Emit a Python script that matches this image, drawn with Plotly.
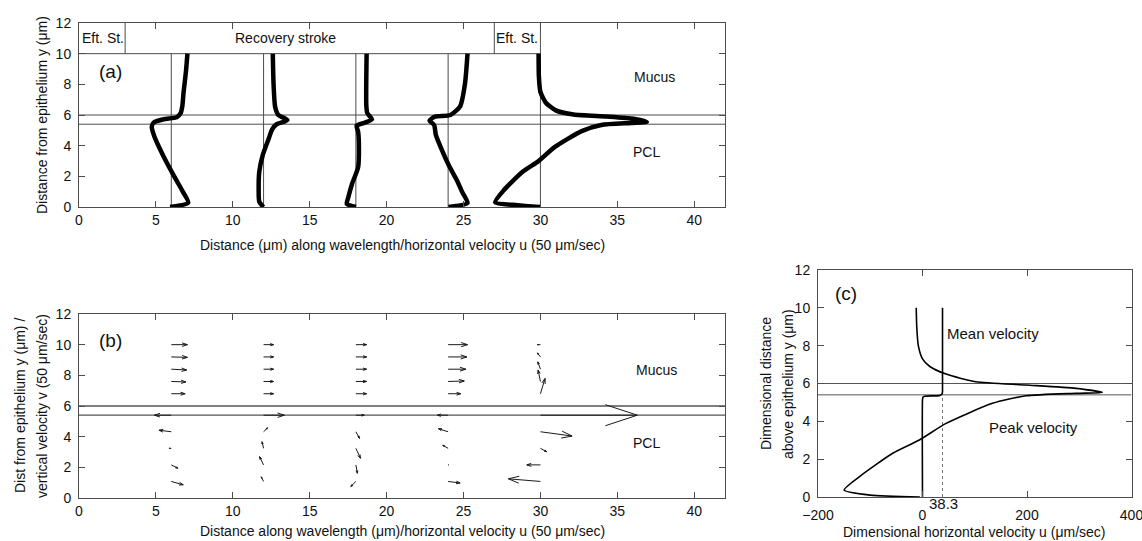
import plotly.graph_objects as go

W, H = 1142, 541
FONT = "Liberation Sans, Arial, Helvetica, sans-serif"
FRAME = "#4d4d4d"
INK = "#111111"

# ------------------------------------------------------------------ data
# panel (a): cilium tip / velocity profiles  (x in μm along wavelength, y in μm)
cilia_base = [6, 12, 18, 24, 30]
layer_bounds = [5.4, 6.0]          # PCL / mucus interface lines
stroke_edges = [3, 27]             # effective / recovery stroke boundaries
stroke_end = 30
box_bottom, box_top = 10, 12

c1_x = [5.92, 7.1, 6.75, 6.3, 5.5, 4.9, 4.73, 4.85, 5.5, 6.35, 6.6, 6.72, 6.8, 6.95, 7.05]
c1_y = [0, 0.28, 1.0, 1.8, 3.3, 4.6, 5.24, 5.5, 5.72, 5.85, 6.1, 6.6, 7.5, 8.8, 10]

c2_x = [11.99, 11.72, 11.68, 11.72, 11.95, 12.35, 12.55, 12.85, 13.55, 12.96, 12.75, 12.65, 12.6]
c2_y = [0, 0.35, 1.2, 2.3, 3.4, 4.5, 5.05, 5.4, 5.67, 6.0, 6.54, 8.0, 10]

c3_x = [18.0, 17.41, 17.5, 17.75, 18.15, 18.2, 18.15, 18.05, 18.6, 19.05, 18.75, 18.68, 18.7]
c3_y = [0, 0.2, 0.6, 1.5, 2.6, 3.9, 4.9, 5.3, 5.5, 5.72, 6.1, 6.6, 10]

c4_x = [24.02, 25.26, 24.9, 24.56, 24.05, 23.59, 23.2, 23.09, 22.79, 23.15, 24.15, 24.78, 25.1, 25.26]
c4_y = [0, 0.26, 1.0, 1.76, 2.7, 3.72, 4.7, 5.35, 5.63, 5.9, 6.0, 6.57, 8.08, 10]

c5_x = [29.98, 28.5, 27.06, 27.6, 28.86, 29.9, 30.9, 32.68, 33.96, 35.88, 36.92,
        36.05, 34.32, 32.15, 31.0, 30.35, 30.0, 29.9, 29.88]
c5_y = [0, 0.12, 0.3, 1.07, 2.31, 3.01, 3.89, 4.95, 5.35, 5.48, 5.55,
        5.76, 5.9, 6.03, 6.3, 6.8, 7.5, 8.5, 10]

profiles_x = [c1_x, c2_x, c3_x, c4_x, c5_x]
profiles_y = [c1_y, c2_y, c3_y, c4_y, c5_y]

# panel (b): velocity vectors (units of 50 μm/sec) at each cilium station
quiver_y = [1.08, 2.16, 3.24, 4.32, 5.4, 6.8, 7.6, 8.4, 9.2, 10.0]
q1_u = [0.78, 0.43, -0.15, -0.8, -1.1, 0.9, 0.95, 1.0, 1.05, 1.05]
q1_v = [-0.22, -0.22, 0.0, 0.1, 0.0, 0.0, -0.03, -0.05, -0.03, 0.0]
q2_u = [-0.15, -0.26, -0.1, 0.26, 1.35, 0.65, 0.65, 0.65, 0.65, 0.65]
q2_v = [0.3, 0.54, 0.43, 0.26, 0.0, 0.0, 0.0, 0.0, 0.0, 0.0]
q3_u = [-0.33, 0.1, 0.3, 0.24, 0.55, 0.7, 0.7, 0.7, 0.7, 0.7]
q3_v = [-0.33, -0.55, -0.65, -0.43, 0.0, 0.0, 0.0, 0.0, 0.0, 0.0]
q4_u = [0.78, 0.05, -0.35, -0.63, -0.7, 0.82, 1.05, 1.15, 1.22, 1.26]
q4_v = [-0.1, 0.0, 0.2, 0.2, 0.0, 0.0, 0.03, 0.0, 0.0, 0.0]
q5_u = [-2.08, -0.89, 0.4, 2.06, 6.3, 0.3, -0.15, -0.17, -0.2, -0.2]
q5_v = [0.17, 0.0, -0.22, -0.28, 0.0, 1.0, 0.75, 0.48, 0.26, 0.0]
quiver_u = [q1_u, q2_u, q3_u, q4_u, q5_u]
quiver_v = [q1_v, q2_v, q3_v, q4_v, q5_v]

# panel (c): dimensional velocity profiles (μm/sec)
peak_u = [-5, -100, -150, -121, -57, -6, 45, 134, 198, 294, 344,
          294, 198, 102, 45, 14, 0, -8, -11, -12]
peak_y = [0, 0.1, 0.37, 1.07, 2.31, 3.01, 3.89, 4.95, 5.35, 5.48, 5.53,
          5.74, 5.92, 6.09, 6.5, 6.9, 7.3, 8.0, 9.0, 10]
mean_u = [0, 0, 0.8, 4, 32, 36.5, 38, 38.3, 38.3]
mean_y = [0, 5.15, 5.27, 5.33, 5.36, 5.42, 5.5, 5.6, 10]
mean_mucus = 38.3

# ------------------------------------------------------------------ layout helpers
def dx(p0, p1):
    return [p0 / W, p1 / W]

def dy(top, bottom):
    return [1 - bottom / H, 1 - top / H]

fig = go.Figure()

def add_lines(segs, xa, ya, color=FRAME, width=1, dash=None):
    xs, ys = [], []
    for (x0, y0, x1, y1) in segs:
        xs += [x0, x1, None]
        ys += [y0, y1, None]
    fig.add_trace(go.Scatter(x=xs, y=ys, xaxis=xa, yaxis=ya, mode="lines",
                             line=dict(color=color, width=width, dash=dash),
                             hoverinfo="skip", showlegend=False))

# ---------------- panel (a)
segs = []
for b in cilia_base:
    top = box_top if b == stroke_end else box_bottom
    segs.append((b, 0, b, top))
for yb in layer_bounds:
    segs.append((0, yb, 42, yb))
segs.append((0, box_bottom, stroke_end, box_bottom))
for e in stroke_edges:
    segs.append((e, box_bottom, e, box_top))
add_lines(segs, "x", "y")

for px_, py_ in zip(profiles_x, profiles_y):
    fig.add_trace(go.Scatter(x=px_, y=py_, xaxis="x", yaxis="y", mode="lines",
                             line=dict(color="black", width=4.5, shape="spline", smoothing=0.6),
                             hoverinfo="skip", showlegend=False))

# ---------------- panel (b)
add_lines([(0, yb, 42, yb) for yb in layer_bounds], "x2", "y2", color="#555555", width=1.3)

alpha, beta = 0.33, 0.33
qsegs = []
for b, us, vs in zip(cilia_base, quiver_u, quiver_v):
    for y0, u, v in zip(quiver_y, us, vs):
        x1, y1 = b + u, y0 + v
        qsegs.append((b, y0, x1, y1))
        qsegs.append((x1 - alpha * (u + beta * v), y1 - alpha * (v - beta * u), x1, y1))
        qsegs.append((x1 - alpha * (u - beta * v), y1 - alpha * (v + beta * u), x1, y1))
add_lines(qsegs, "x2", "y2", color="#1a1a1a", width=1)

# ---------------- panel (c)
add_lines([(-200, yb, 400, yb) for yb in layer_bounds], "x3", "y3", color="#555555", width=1)
add_lines([(mean_mucus, 0, mean_mucus, 5.5)], "x3", "y3", color="#777777", width=1, dash="dot")
fig.add_trace(go.Scatter(x=peak_u, y=peak_y, xaxis="x3", yaxis="y3", mode="lines",
                         line=dict(color="black", width=1.6, shape="spline", smoothing=0.6),
                         hoverinfo="skip", showlegend=False))
fig.add_trace(go.Scatter(x=mean_u, y=mean_y, xaxis="x3", yaxis="y3", mode="lines",
                         line=dict(color="black", width=1.6, shape="spline", smoothing=0.5),
                         hoverinfo="skip", showlegend=False))

# ------------------------------------------------------------------ axes
def axis(domain, rng, tickvals, anchor):
    return dict(domain=domain, range=rng, tickvals=tickvals, anchor=anchor,
                showgrid=False, zeroline=False, showline=True, linecolor=FRAME, linewidth=1,
                mirror="ticks", ticks="inside", ticklen=6, tickwidth=1, tickcolor=FRAME,
                automargin=False, ticklabeloverflow="allow",
                tickfont=dict(family=FONT, size=14, color=INK), fixedrange=True)

xa_dom = dx(79, 725)
fig.update_layout(
    width=W, height=H, autosize=False, margin=dict(l=0, r=0, t=0, b=0, pad=0),
    paper_bgcolor="white", plot_bgcolor="white", showlegend=False,
    font=dict(family=FONT, size=14, color=INK),
    xaxis=axis(xa_dom, [0, 42], list(range(0, 41, 5)), "y"),
    yaxis=dict(axis(dy(23, 207), [0, 12], list(range(0, 13, 2)), "x"), ticklabelstandoff=4),
    xaxis2=axis(xa_dom, [0, 42], list(range(0, 41, 5)), "y2"),
    yaxis2=dict(axis(dy(314, 498), [0, 12], list(range(0, 13, 2)), "x2"), ticklabelstandoff=4),
    xaxis3=dict(axis(dx(818, 1131.5), [-200, 400], [-200, 0, 200, 400], "y3"), ticklabelstandoff=5),
    yaxis3=dict(axis(dy(270, 497), [0, 12], list(range(0, 13, 2)), "x3"), ticklabelstandoff=4),
)

ann = []
def txt(text, x, y, xref, yref, size=14, xanchor="center", angle=0):
    ann.append(dict(text=text, x=x, y=y, xref=xref, yref=yref, showarrow=False,
                    xanchor=xanchor, yanchor="middle", textangle=angle,
                    font=dict(family=FONT, size=size, color=INK)))

def ptxt(text, px, py, size=14, angle=0):
    txt(text, px / W, 1 - py / H, "paper", "paper", size=size, angle=angle)

# panel (a) texts
txt("(a)", 1.2, 8.85, "x", "y", size=19, xanchor="left")
txt("Eft. St.", 1.55, 11.0, "x", "y")
txt("Recovery stroke", 13.45, 11.0, "x", "y")
txt("Eft. St.", 28.5, 11.0, "x", "y")
txt("Mucus", 37.4, 8.45, "x", "y")
txt("PCL", 36.9, 3.57, "x", "y")
ptxt("Distance from epithelium y (μm)", 42, 115, angle=-90)
ptxt("Distance (μm) along wavelength/horizontal velocity u (50 μm/sec)", 402, 245)

# panel (b) texts
txt("(b)", 1.2, 10.3, "x2", "y2", size=19, xanchor="left")
txt("Mucus", 37.55, 8.35, "x2", "y2")
txt("PCL", 36.9, 3.6, "x2", "y2")
ptxt("Dist from epithelium y (μm) /", 20, 406, angle=-90)
ptxt("vertical velocity v (50 μm/sec)", 42, 406, angle=-90)
ptxt("Distance along wavelength (μm)/horizontal velocity u (50 μm/sec)", 402, 531)

# panel (c) texts
txt("(c)", -172, 10.75, "x3", "y3", size=19, xanchor="left")
txt("Mean velocity", 44, 8.65, "x3", "y3", size=15, xanchor="left")
txt("Peak velocity", 123, 3.7, "x3", "y3", size=15, xanchor="left")
txt("38.3", 40, 1 - 503 / H, "x3", "paper", size=15)
ptxt("Dimensional distance", 766, 384, angle=-90)
ptxt("above epithelium y (μm)", 788, 384, angle=-90)
ptxt("Dimensional horizontal velocity u (μm/sec)", 974, 532)

fig.update_layout(annotations=ann)
fig.write_html(
    "out.html",
    config={"displayModeBar": False, "staticPlot": True},
    post_script="document.body.style.margin='0';document.body.style.overflow='hidden';",
)
